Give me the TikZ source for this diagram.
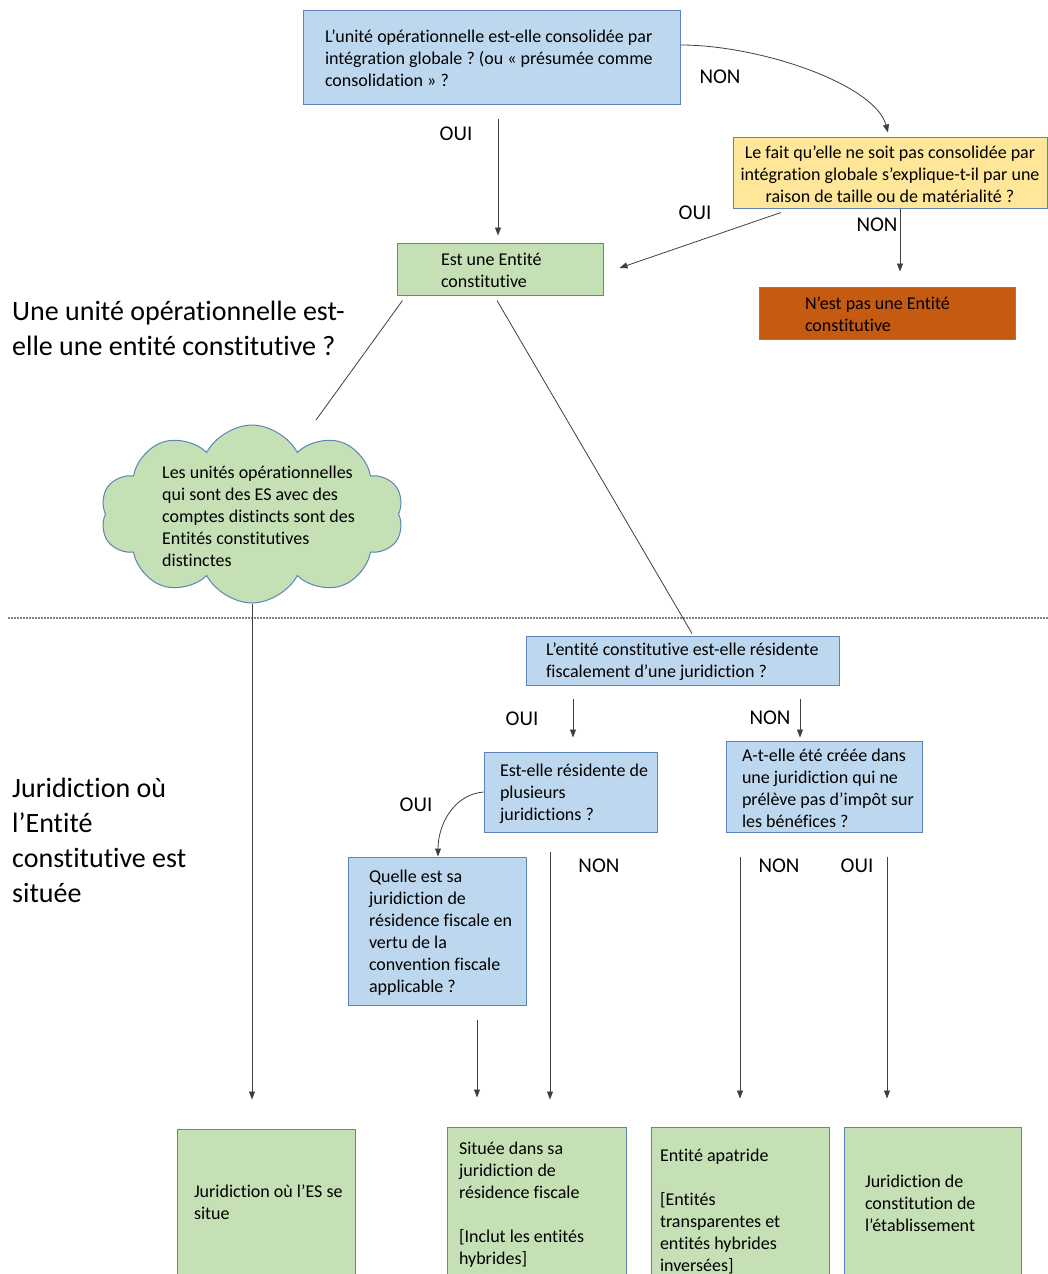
\documentclass[tikz,border=0pt]{standalone}
\usepackage{fontspec}
\setmainfont{Carlito}[Ligatures={NoCommon}]
\usetikzlibrary{shapes.symbols,calc,arrows.meta}
\definecolor{bfill}{HTML}{BDD7EE}
\definecolor{bline}{HTML}{5B84B8}
\definecolor{yfill}{HTML}{FFE699}
\definecolor{gfill}{HTML}{C5E0B4}
\definecolor{ofill}{HTML}{C55A11}
\definecolor{cline}{HTML}{3F3F3F}
\frenchspacing
\begin{document}
\begin{tikzpicture}[x=1pt,y=-1pt,
  box/.style={draw=bline, line width=1pt, rectangle, inner ysep=0pt, align=flush left,
    font=\fontsize{18}{22}\selectfont, execute at begin node={\rule{0pt}{16pt}}},
  txt/.style={inner sep=0pt, font=\fontsize{18}{22}\selectfont},
  big/.style={inner sep=0pt, align=left, anchor=west, font=\fontsize{28}{35}\selectfont},
  lab/.style={inner sep=0pt, font=\fontsize{21}{25}\selectfont},
  conn/.style={draw=cline, line width=0.8pt},
  arr/.style={conn, -{Triangle[length=8pt,width=6pt]}}]
\useasboundingbox (0,0) rectangle (1048,1274);
\fill[white] (0,0) rectangle (1048,1274);
\clip (0,0) rectangle (1048,1274);

% boxes
\node[box, fill=bfill, minimum width=377pt, minimum height=94pt, text width=333pt, inner xsep=22pt] (top) at (491.5,57)
  {\mbox{L’unité opérationnelle est-elle consolidée par}\\\mbox{intégration globale ? (ou « présumée comme}\\consolidation » ?};
\node[box, fill=yfill, align=flush center, minimum width=314pt, minimum height=71pt, text width=304pt, inner xsep=5pt] (yel) at (890,172.5)
  {\mbox{Le fait qu’elle ne soit pas consolidée par}\\\mbox{intégration globale s’explique-t-il par une}\\\mbox{raison de taille ou de matérialité ?}};
\node[box, fill=gfill, minimum width=206pt, minimum height=52pt, text width=118pt, inner xsep=44pt] (est) at (500,269)
  {Est une Entité\\constitutive};
\node[box, fill=ofill, minimum width=256pt, minimum height=52pt, text width=164pt, inner xsep=46pt] (ora) at (887,313)
  {N’est pas une Entité\\constitutive};
\node[cloud, draw=bline, fill=gfill, line width=1pt, cloud puffs=10, cloud puff arc=125,
  minimum width=303pt, minimum height=178pt, inner sep=0pt] (cloud) at (252,514) {};
\node[txt, anchor=west, align=left] (cloudtxt) at (162,516.5)
  {Les unités opérationnelles\\qui sont des ES avec des\\comptes distincts sont des\\Entités constitutives\\distinctes};
\node[box, fill=bfill, minimum width=313pt, minimum height=49pt, text width=273pt, inner xsep=20pt] (ent) at (682.5,660.5)
  {\mbox{L’entité constitutive est-elle résidente}\\\mbox{fiscalement d’une juridiction ?}};
\node[box, fill=bfill, minimum width=173pt, minimum height=80pt, text width=141pt, inner xsep=16pt] (res) at (570.5,792)
  {\mbox{Est-elle résidente de}\\plusieurs\\juridictions ?};
\node[box, fill=bfill, minimum width=196pt, minimum height=91pt, text width=164pt, inner xsep=16pt] (cree) at (824,786.5)
  {\mbox{A-t-elle été créée dans}\\\mbox{une juridiction qui ne}\\\mbox{prélève pas d’impôt sur}\\\mbox{les bénéfices ?}};
\node[box, fill=bfill, minimum width=178pt, minimum height=148pt, text width=136pt, inner xsep=21pt] (quel) at (437,931)
  {Quelle est sa\\juridiction de\\\mbox{résidence fiscale en}\\vertu de la\\\mbox{convention fiscale}\\applicable ?};
\node[box, fill=gfill, minimum width=178pt, minimum height=186pt, text width=144pt, inner xsep=17pt] (b1) at (266,1222)
  {\mbox{Juridiction où l’ES se}\\situe\\\mbox{}\\\mbox{}};
\node[box, fill=gfill, minimum width=179pt, minimum height=156pt, text width=155pt, inner xsep=12pt] (b2) at (536.5,1205)
  {Située dans sa\\juridiction de\\résidence fiscale\\[22pt]{[}Inclut les entités\\hybrides]\\[-14pt]\mbox{}};
\node[box, fill=gfill, minimum width=178pt, minimum height=166pt, text width=160pt, inner xsep=9pt] (b3) at (740,1210)
  {Entité apatride\\[22pt]{[}Entités\\transparentes et\\entités hybrides\\inversées]};
\node[box, fill=gfill, minimum width=177pt, minimum height=150pt, text width=135pt, inner xsep=21pt] (b4) at (932.5,1202)
  {Juridiction de\\constitution de\\l’établissement};

% side titles
\node[big] (t1) at (12,328.5) {Une unité opérationnelle est-\\elle une entité constitutive ?};
\node[big] (t2) at (12,840.5) {Juridiction où\\l’Entité\\constitutive est\\située};

% separator
\draw[gray, line width=1.2pt, dash pattern=on 1.5pt off 1.5pt] (8,618) -- (1048,618);

% connectors
\draw[arr] ($(top.east)+(0,-12)$) .. controls ($(top.east)+(80,-12)$) and ($(yel.north)+(-15,-52)$) .. ($(yel.north)+(-2,-4)$);
\node[lab] (l1) at (720,77) {NON};
\draw[arr] ($(top.south)+(6.5,14)$) -- ($(est.north)+(-2,-7)$);
\node[lab] (l2) at (456,134) {OUI};
\draw[arr] ($(yel.south)+(-109,4)$) -- ($(est.east)+(16,-1)$);
\node[lab] (l3) at (695,213) {OUI};
\draw[arr] ($(yel.south)+(10,0)$) -- ($(ora.north)+(13,-15)$);
\node[lab] (l4) at (877,225) {NON};
\draw[conn] ($(est.south west)+(6,5)$) -- ($(cloud.center)+(64,-94)$);
\draw[conn] ($(est.south)+(-3,5)$) -- ($(ent.north)+(9.5,-2)$);
\draw[arr] (cloud.south) -- ($(b1.north)+(-14,-29)$);
\draw[arr] ($(ent.south)+(-109.5,13)$) -- ($(res.north)+(2.5,-14)$);
\node[lab] (l5) at (522,719) {OUI};
\draw[arr] ($(ent.south)+(117.5,13)$) -- ($(cree.north)+(-24,-3)$);
\node[lab] (l6) at (770,718) {NON};
\draw[arr] (res.west) to[out=185,in=90] ($(quel.north)+(1,0)$);
\node[lab] (l7) at (416,805) {OUI};
\draw[arr] ($(res.south)+(-20.5,19)$) -- ($(b2.north)+(13.5,-27)$);
\node[lab] (l8) at (599,866) {NON};
\draw[arr] ($(quel.south)+(40,14)$) -- ($(b2.north)+(-59.5,-29)$);
\draw[arr] ($(cree.south)+(-84,24)$) -- ($(b3.north)+(0,-28)$);
\node[lab] (l9) at (779,866) {NON};
\draw[arr] ($(cree.south)+(63,24)$) -- ($(b4.north)+(-45.5,-28)$);
\node[lab] (l10) at (857,866) {OUI};
\end{tikzpicture}
\end{document}
